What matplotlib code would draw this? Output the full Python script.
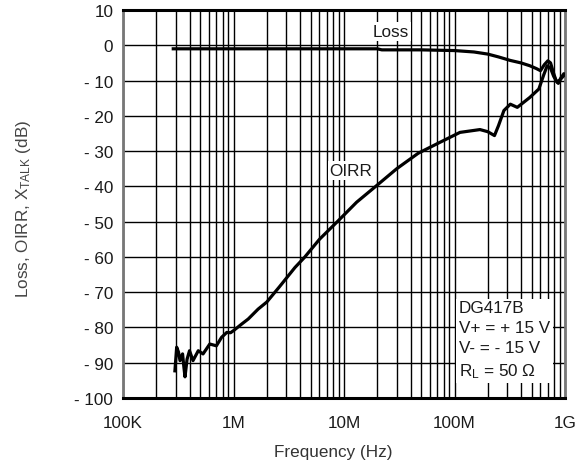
import matplotlib.pyplot as plt
from matplotlib.ticker import FixedLocator, LogLocator, NullFormatter

plt.rcParams['font.family'] = ['Liberation Sans', 'DejaVu Sans']
plt.rcParams['mathtext.fontset'] = 'custom'
plt.rcParams['mathtext.rm'] = 'Liberation Sans'
plt.rcParams['mathtext.it'] = 'Liberation Sans'

# Loss curve (Hz, dB)
loss_f  = [2.85e5, 1e6, 5e6, 2.0e7, 2.2e7, 5e7, 1e8, 1.5e8, 2e8, 2.5e8, 3.2e8,
           4e8, 4.8e8, 5.5e8, 6.0e8, 6.5e8, 7.0e8, 7.4e8, 7.9e8, 8.3e8, 8.7e8,
           9.2e8, 9.7e8]
loss_db = [-1.0, -1.0, -1.0, -1.0, -1.3, -1.3, -1.5, -1.9, -2.5, -3.3, -4.3,
           -5.0, -5.8, -6.6, -7.2, -5.5, -4.4, -5.0, -8.0, -10.0, -10.8,
           -9.2, -8.2]

# OIRR curve (Hz, dB)
oirr_f  = [2.95e5, 3.06e5, 3.18e5, 3.28e5, 3.46e5, 3.55e5, 3.64e5, 3.8e5, 4.0e5,
           4.3e5, 4.8e5, 5.3e5, 6.1e5, 7.0e5, 7.8e5, 8.7e5, 9.4e5, 1.0e6,
           1.19e6, 1.36e6, 1.67e6, 2.0e6, 2.6e6, 3.6e6, 4.4e6, 6.0e6, 8.9e6,
           1.3e7, 1.97e7, 3.0e7, 4.7e7, 7.4e7, 1.12e8, 1.7e8, 2.0e8, 2.3e8,
           2.5e8, 2.8e8, 3.2e8, 3.7e8, 4.8e8, 5.8e8, 6.4e8, 6.9e8, 7.4e8,
           7.9e8, 8.5e8, 9.2e8, 1e9]
oirr_db = [-92.3, -85.6, -87.0, -89.4, -87.5, -91.0, -94.0, -89.0, -86.6,
           -89.4, -86.6, -87.5, -84.7, -85.2, -82.8, -81.4, -81.5, -80.9,
           -79.0, -77.6, -74.8, -72.8, -68.5, -63.0, -60.1, -55.0, -49.7,
           -44.5, -39.8, -35.0, -30.6, -27.5, -24.7, -23.9, -24.5, -25.6,
           -22.8, -18.5, -16.7, -17.6, -14.8, -12.4, -8.5, -5.8, -6.5,
           -8.8, -10.5, -9.5, -8.2]

x_ticks = [1e5, 1e6, 1e7, 1e8, 1e9]
x_labels = ['100K', '1M', '10M', '100M', '1G']
y_ticks = [10, 0, -10, -20, -30, -40, -50, -60, -70, -80, -90, -100]
y_labels = ['10', '0'] + ['- %d' % abs(v) for v in y_ticks[2:]]

fs = 12.3

fig = plt.figure(figsize=(5.88, 4.64), dpi=100)
ax = fig.add_axes([123/588, 1-399/464, 442/588, 388/464])

ax.plot(loss_f, loss_db, color='k', lw=2.3, solid_joinstyle='round', zorder=3)
ax.plot(oirr_f, oirr_db, color='k', lw=2.3, solid_joinstyle='round', zorder=3)

ax.set(xscale='log', xlim=[1e5, 1e9], ylim=[-100, 10])
ax.xaxis.set_major_locator(FixedLocator(x_ticks))
ax.set_xticklabels(x_labels)
ax.xaxis.set_minor_locator(LogLocator(base=10, subs=range(2, 10)))
ax.xaxis.set_minor_formatter(NullFormatter())
ax.yaxis.set_major_locator(FixedLocator(y_ticks))
ax.set_yticklabels(y_labels)

ax.grid(which='both', axis='x', color='k', lw=1.0)
ax.grid(which='major', axis='y', color='k', lw=1.0)
ax.tick_params(which='both', length=0, labelsize=fs, colors='#1a1a1a')
ax.tick_params(axis='x', pad=12)
ax.tick_params(axis='y', pad=7)

for side in ['top', 'bottom']:
    ax.spines[side].set_color('k')
    ax.spines[side].set_linewidth(2.2)
for side in ['left', 'right']:
    ax.spines[side].set_color('#777777')
    ax.spines[side].set_linewidth(2.0)

box = dict(facecolor='white', edgecolor='none', pad=1.5)
ax.text(2.66e7, 4.0, 'Loss', ha='center', va='center', fontsize=fs,
        color='#1a1a1a', bbox=box, zorder=4)
ax.text(1.16e7, -35.6, 'OIRR', ha='center', va='center', fontsize=fs,
        color='#1a1a1a', bbox=box, zorder=4)
ax.text(0.76, 0.149, 'DG417B\nV+ = + 15 V\nV- = - 15 V\nR$_{\\rm L}$ = 50 Ω',
        transform=ax.transAxes, ha='left', va='center', fontsize=fs,
        color='#1a1a1a', linespacing=1.42,
        bbox=dict(facecolor='white', edgecolor='none', pad=2), zorder=4)

ax.set_xlabel('Frequency (Hz)', fontsize=fs, color='#333333')
ax.set_ylabel('Loss, OIRR, X$_{\\rm TALK}$ (dB)', fontsize=fs, color='#444444')
ax.xaxis.set_label_coords(0.475, -0.118)
ax.yaxis.set_label_coords(-0.204, 0.49)

fig.savefig('out.png', dpi=100)
